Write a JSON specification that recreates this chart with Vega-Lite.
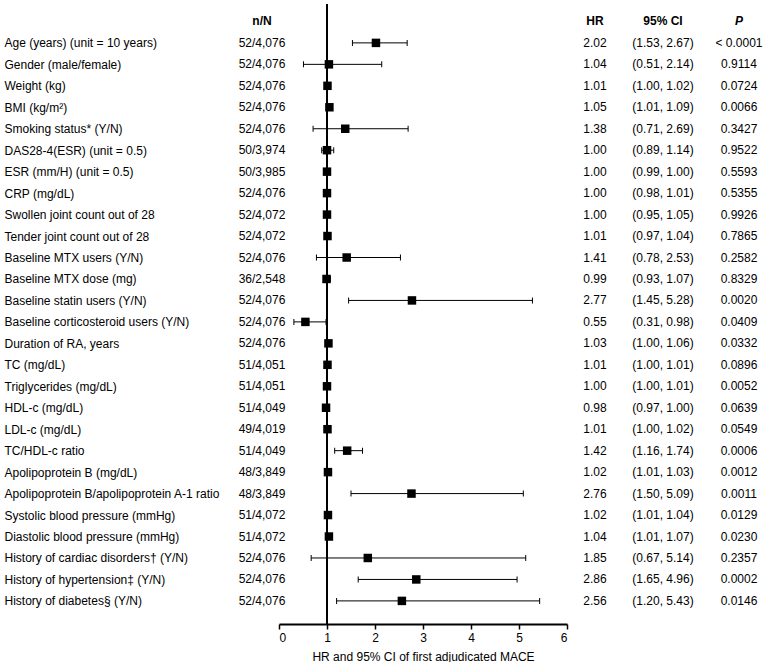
{
  "$schema": "https://vega.github.io/schema/vega-lite/v6.json",
  "background": "white",
  "padding": {"left": 4, "top": 3, "right": 0, "bottom": 0},
  "spacing": 0,
  "bounds": "flush",
  "config": {
    "view": {"stroke": null},
    "font": "Liberation Sans",
    "text": {"font": "Liberation Sans", "fontSize": 12, "color": "black"},
    "axis": {"labelFont": "Liberation Sans", "titleFont": "Liberation Sans", "labelColor": "black", "titleColor": "black"}
  },
  "data": {
    "values": [
      {"label": "Age (years) (unit = 10 years)", "n": "52/4,076", "hr": 2.02, "lo": 1.53, "hi": 2.67, "ci": "(1.53, 2.67)", "p": "< 0.0001"},
      {"label": "Gender (male/female)", "n": "52/4,076", "hr": 1.04, "lo": 0.51, "hi": 2.14, "ci": "(0.51, 2.14)", "p": "0.9114"},
      {"label": "Weight (kg)", "n": "52/4,076", "hr": 1.01, "lo": 1.00, "hi": 1.02, "ci": "(1.00, 1.02)", "p": "0.0724"},
      {"label": "BMI (kg/m²)", "n": "52/4,076", "hr": 1.05, "lo": 1.01, "hi": 1.09, "ci": "(1.01, 1.09)", "p": "0.0066"},
      {"label": "Smoking status* (Y/N)", "n": "52/4,076", "hr": 1.38, "lo": 0.71, "hi": 2.69, "ci": "(0.71, 2.69)", "p": "0.3427"},
      {"label": "DAS28-4(ESR) (unit = 0.5)", "n": "50/3,974", "hr": 1.00, "lo": 0.89, "hi": 1.14, "ci": "(0.89, 1.14)", "p": "0.9522"},
      {"label": "ESR (mm/H) (unit = 0.5)", "n": "50/3,985", "hr": 1.00, "lo": 0.99, "hi": 1.00, "ci": "(0.99, 1.00)", "p": "0.5593"},
      {"label": "CRP (mg/dL)", "n": "52/4,076", "hr": 1.00, "lo": 0.98, "hi": 1.01, "ci": "(0.98, 1.01)", "p": "0.5355"},
      {"label": "Swollen joint count out of 28", "n": "52/4,072", "hr": 1.00, "lo": 0.95, "hi": 1.05, "ci": "(0.95, 1.05)", "p": "0.9926"},
      {"label": "Tender joint count out of 28", "n": "52/4,072", "hr": 1.01, "lo": 0.97, "hi": 1.04, "ci": "(0.97, 1.04)", "p": "0.7865"},
      {"label": "Baseline MTX users (Y/N)", "n": "52/4,076", "hr": 1.41, "lo": 0.78, "hi": 2.53, "ci": "(0.78, 2.53)", "p": "0.2582"},
      {"label": "Baseline MTX dose (mg)", "n": "36/2,548", "hr": 0.99, "lo": 0.93, "hi": 1.07, "ci": "(0.93, 1.07)", "p": "0.8329"},
      {"label": "Baseline statin users (Y/N)", "n": "52/4,076", "hr": 2.77, "lo": 1.45, "hi": 5.28, "ci": "(1.45, 5.28)", "p": "0.0020"},
      {"label": "Baseline corticosteroid users (Y/N)", "n": "52/4,076", "hr": 0.55, "lo": 0.31, "hi": 0.98, "ci": "(0.31, 0.98)", "p": "0.0409"},
      {"label": "Duration of RA, years", "n": "52/4,076", "hr": 1.03, "lo": 1.00, "hi": 1.06, "ci": "(1.00, 1.06)", "p": "0.0332"},
      {"label": "TC (mg/dL)", "n": "51/4,051", "hr": 1.01, "lo": 1.00, "hi": 1.01, "ci": "(1.00, 1.01)", "p": "0.0896"},
      {"label": "Triglycerides (mg/dL)", "n": "51/4,051", "hr": 1.00, "lo": 1.00, "hi": 1.01, "ci": "(1.00, 1.01)", "p": "0.0052"},
      {"label": "HDL-c (mg/dL)", "n": "51/4,049", "hr": 0.98, "lo": 0.97, "hi": 1.00, "ci": "(0.97, 1.00)", "p": "0.0639"},
      {"label": "LDL-c (mg/dL)", "n": "49/4,019", "hr": 1.01, "lo": 1.00, "hi": 1.02, "ci": "(1.00, 1.02)", "p": "0.0549"},
      {"label": "TC/HDL-c ratio", "n": "51/4,049", "hr": 1.42, "lo": 1.16, "hi": 1.74, "ci": "(1.16, 1.74)", "p": "0.0006"},
      {"label": "Apolipoprotein B (mg/dL)", "n": "48/3,849", "hr": 1.02, "lo": 1.01, "hi": 1.03, "ci": "(1.01, 1.03)", "p": "0.0012"},
      {"label": "Apolipoprotein B/apolipoprotein A-1 ratio", "n": "48/3,849", "hr": 2.76, "lo": 1.50, "hi": 5.09, "ci": "(1.50, 5.09)", "p": "0.0011"},
      {"label": "Systolic blood pressure (mmHg)", "n": "51/4,072", "hr": 1.02, "lo": 1.01, "hi": 1.04, "ci": "(1.01, 1.04)", "p": "0.0129"},
      {"label": "Diastolic blood pressure (mmHg)", "n": "51/4,072", "hr": 1.04, "lo": 1.01, "hi": 1.07, "ci": "(1.01, 1.07)", "p": "0.0230"},
      {"label": "History of cardiac disorders† (Y/N)", "n": "52/4,076", "hr": 1.85, "lo": 0.67, "hi": 5.14, "ci": "(0.67, 5.14)", "p": "0.2357"},
      {"label": "History of hypertension‡ (Y/N)", "n": "52/4,076", "hr": 2.86, "lo": 1.65, "hi": 4.96, "ci": "(1.65, 4.96)", "p": "0.0002"},
      {"label": "History of diabetes§ (Y/N)", "n": "52/4,076", "hr": 2.56, "lo": 1.20, "hi": 5.43, "ci": "(1.20, 5.43)", "p": "0.0146"}
    ]
  },
  "hconcat": [
    {
      "width": 34,
      "height": 620,
      "layer": [
        {
          "data": {"values": [{"key": "", "h": "n/N"}]},
          "mark": {"type": "text", "fontWeight": "bold"},
          "encoding": {
            "y": {"field": "key", "type": "ordinal", "axis": {"title": null, "domain": false, "ticks": false, "tickSize": 0, "labelAlign": "left", "labelPadding": 241, "labelFontSize": 12, "labelLimit": 0}},
            "text": {"field": "h"}
          }
        },
        {
          "mark": {"type": "text"},
          "encoding": {
            "y": {"field": "label", "type": "ordinal",
              "scale": {"type": "point", "padding": 0.944, "align": 0.43,
                "domain": ["", "Age (years) (unit = 10 years)", "Gender (male/female)", "Weight (kg)", "BMI (kg/m²)", "Smoking status* (Y/N)", "DAS28-4(ESR) (unit = 0.5)", "ESR (mm/H) (unit = 0.5)", "CRP (mg/dL)", "Swollen joint count out of 28", "Tender joint count out of 28", "Baseline MTX users (Y/N)", "Baseline MTX dose (mg)", "Baseline statin users (Y/N)", "Baseline corticosteroid users (Y/N)", "Duration of RA, years", "TC (mg/dL)", "Triglycerides (mg/dL)", "HDL-c (mg/dL)", "LDL-c (mg/dL)", "TC/HDL-c ratio", "Apolipoprotein B (mg/dL)", "Apolipoprotein B/apolipoprotein A-1 ratio", "Systolic blood pressure (mmHg)", "Diastolic blood pressure (mmHg)", "History of cardiac disorders† (Y/N)", "History of hypertension‡ (Y/N)", "History of diabetes§ (Y/N)"]},
              "axis": {"title": null, "domain": false, "ticks": false, "tickSize": 0, "labelAlign": "left", "labelPadding": 241, "labelFontSize": 12, "labelLimit": 0}
            },
            "text": {"field": "n"}
          }
        }
      ]
    },
    {
      "width": 288,
      "height": 620,
      "layer": [
        {
          "mark": {"type": "rule", "color": "black", "strokeWidth": 2},
          "encoding": {"x": {"datum": 1, "type": "quantitative"}}
        },
        {
          "mark": {"type": "rule", "color": "black", "strokeWidth": 1},
          "encoding": {
            "x": {"field": "lo", "type": "quantitative",
              "scale": {"domain": [0, 6], "nice": false},
              "axis": {"values": [0, 1, 2, 3, 4, 5, 6], "grid": false, "domainColor": "black", "domainWidth": 2, "tickColor": "black", "tickWidth": 1.5, "tickSize": 5, "labelFontSize": 12, "labelPadding": 3, "title": "HR and 95% CI of first adjudicated MACE", "titleFontSize": 12, "titleFontWeight": "normal", "titlePadding": 8}},
            "x2": {"field": "hi"},
            "y": {"field": "label", "type": "ordinal", "axis": null,
              "scale": {"type": "point", "padding": 0.944, "align": 0.43,
                "domain": ["", "Age (years) (unit = 10 years)", "Gender (male/female)", "Weight (kg)", "BMI (kg/m²)", "Smoking status* (Y/N)", "DAS28-4(ESR) (unit = 0.5)", "ESR (mm/H) (unit = 0.5)", "CRP (mg/dL)", "Swollen joint count out of 28", "Tender joint count out of 28", "Baseline MTX users (Y/N)", "Baseline MTX dose (mg)", "Baseline statin users (Y/N)", "Baseline corticosteroid users (Y/N)", "Duration of RA, years", "TC (mg/dL)", "Triglycerides (mg/dL)", "HDL-c (mg/dL)", "LDL-c (mg/dL)", "TC/HDL-c ratio", "Apolipoprotein B (mg/dL)", "Apolipoprotein B/apolipoprotein A-1 ratio", "Systolic blood pressure (mmHg)", "Diastolic blood pressure (mmHg)", "History of cardiac disorders† (Y/N)", "History of hypertension‡ (Y/N)", "History of diabetes§ (Y/N)"]}}
          }
        },
        {
          "mark": {"type": "tick", "orient": "vertical", "color": "black", "size": 6, "thickness": 1, "opacity": 1},
          "encoding": {
            "x": {"field": "lo", "type": "quantitative"},
            "y": {"field": "label", "type": "ordinal", "axis": null}
          }
        },
        {
          "mark": {"type": "tick", "orient": "vertical", "color": "black", "size": 6, "thickness": 1, "opacity": 1},
          "encoding": {
            "x": {"field": "hi", "type": "quantitative"},
            "y": {"field": "label", "type": "ordinal", "axis": null}
          }
        },
        {
          "mark": {"type": "square", "color": "black", "size": 72, "opacity": 1},
          "encoding": {
            "x": {"field": "hr", "type": "quantitative"},
            "y": {"field": "label", "type": "ordinal", "axis": null}
          }
        }
      ]
    },
    {
      "width": 56,
      "height": 620,
      "layer": [
        {
          "data": {"values": [{"key": "", "h": "HR"}]},
          "mark": {"type": "text", "fontWeight": "bold"},
          "encoding": {"y": {"field": "key", "type": "ordinal", "axis": null}, "text": {"field": "h"}}
        },
        {
          "mark": {"type": "text"},
          "encoding": {
            "y": {"field": "label", "type": "ordinal", "axis": null,
              "scale": {"type": "point", "padding": 0.944, "align": 0.43,
                "domain": ["", "Age (years) (unit = 10 years)", "Gender (male/female)", "Weight (kg)", "BMI (kg/m²)", "Smoking status* (Y/N)", "DAS28-4(ESR) (unit = 0.5)", "ESR (mm/H) (unit = 0.5)", "CRP (mg/dL)", "Swollen joint count out of 28", "Tender joint count out of 28", "Baseline MTX users (Y/N)", "Baseline MTX dose (mg)", "Baseline statin users (Y/N)", "Baseline corticosteroid users (Y/N)", "Duration of RA, years", "TC (mg/dL)", "Triglycerides (mg/dL)", "HDL-c (mg/dL)", "LDL-c (mg/dL)", "TC/HDL-c ratio", "Apolipoprotein B (mg/dL)", "Apolipoprotein B/apolipoprotein A-1 ratio", "Systolic blood pressure (mmHg)", "Diastolic blood pressure (mmHg)", "History of cardiac disorders† (Y/N)", "History of hypertension‡ (Y/N)", "History of diabetes§ (Y/N)"]}},
            "text": {"field": "hr", "type": "quantitative", "format": ".2f"}
          }
        }
      ]
    },
    {
      "width": 80,
      "height": 620,
      "layer": [
        {
          "data": {"values": [{"key": "", "h": "95% CI"}]},
          "mark": {"type": "text", "fontWeight": "bold"},
          "encoding": {"y": {"field": "key", "type": "ordinal", "axis": null}, "text": {"field": "h"}}
        },
        {
          "mark": {"type": "text"},
          "encoding": {
            "y": {"field": "label", "type": "ordinal", "axis": null,
              "scale": {"type": "point", "padding": 0.944, "align": 0.43,
                "domain": ["", "Age (years) (unit = 10 years)", "Gender (male/female)", "Weight (kg)", "BMI (kg/m²)", "Smoking status* (Y/N)", "DAS28-4(ESR) (unit = 0.5)", "ESR (mm/H) (unit = 0.5)", "CRP (mg/dL)", "Swollen joint count out of 28", "Tender joint count out of 28", "Baseline MTX users (Y/N)", "Baseline MTX dose (mg)", "Baseline statin users (Y/N)", "Baseline corticosteroid users (Y/N)", "Duration of RA, years", "TC (mg/dL)", "Triglycerides (mg/dL)", "HDL-c (mg/dL)", "LDL-c (mg/dL)", "TC/HDL-c ratio", "Apolipoprotein B (mg/dL)", "Apolipoprotein B/apolipoprotein A-1 ratio", "Systolic blood pressure (mmHg)", "Diastolic blood pressure (mmHg)", "History of cardiac disorders† (Y/N)", "History of hypertension‡ (Y/N)", "History of diabetes§ (Y/N)"]}},
            "text": {"field": "ci"}
          }
        }
      ]
    },
    {
      "width": 62,
      "height": 620,
      "layer": [
        {
          "data": {"values": [{"key": "", "h": "P"}]},
          "mark": {"type": "text", "fontWeight": "bold", "fontStyle": "italic", "dx": 5},
          "encoding": {"y": {"field": "key", "type": "ordinal", "axis": null}, "text": {"field": "h"}}
        },
        {
          "mark": {"type": "text", "dx": 5},
          "encoding": {
            "y": {"field": "label", "type": "ordinal", "axis": null,
              "scale": {"type": "point", "padding": 0.944, "align": 0.43,
                "domain": ["", "Age (years) (unit = 10 years)", "Gender (male/female)", "Weight (kg)", "BMI (kg/m²)", "Smoking status* (Y/N)", "DAS28-4(ESR) (unit = 0.5)", "ESR (mm/H) (unit = 0.5)", "CRP (mg/dL)", "Swollen joint count out of 28", "Tender joint count out of 28", "Baseline MTX users (Y/N)", "Baseline MTX dose (mg)", "Baseline statin users (Y/N)", "Baseline corticosteroid users (Y/N)", "Duration of RA, years", "TC (mg/dL)", "Triglycerides (mg/dL)", "HDL-c (mg/dL)", "LDL-c (mg/dL)", "TC/HDL-c ratio", "Apolipoprotein B (mg/dL)", "Apolipoprotein B/apolipoprotein A-1 ratio", "Systolic blood pressure (mmHg)", "Diastolic blood pressure (mmHg)", "History of cardiac disorders† (Y/N)", "History of hypertension‡ (Y/N)", "History of diabetes§ (Y/N)"]}},
            "text": {"field": "p"}
          }
        }
      ]
    }
  ]
}
